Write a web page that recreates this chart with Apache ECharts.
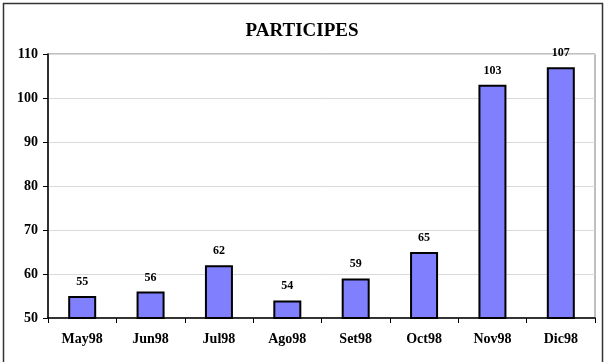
<!DOCTYPE html>
<html>
<head>
<meta charset="utf-8">
<script src="https://cdn.jsdelivr.net/npm/echarts@6/dist/echarts.min.js"></script>
<style>
html,body{margin:0;padding:0;background:#fff;}
#c{width:604px;height:362px;}
</style>
</head>
<body>
<div id="c"></div>
<script>
var categories = ['May98','Jun98','Jul98','Ago98','Set98','Oct98','Nov98','Dic98'];
var values = [55, 56, 62, 54, 59, 65, 103, 107];
var titleText = 'PARTICIPES';
var yMin = 50, yMax = 110, yStep = 10;

var FONT = '"Liberation Serif","Times New Roman",serif';
var chart = echarts.init(document.getElementById('c'), null, {renderer:'canvas'});
chart.setOption({
  animation: false,
  backgroundColor: '#fff',
  title: {
    text: titleText,
    left: 'center',
    top: 17,
    textStyle: {fontFamily: FONT, fontWeight: 'bold', fontSize: 19, color: '#000'}
  },
  graphic: [{
    type: 'rect',
    shape: {x: 3.5, y: 3.5, width: 599, height: 380},
    style: {fill: 'none', stroke: '#333', lineWidth: 1.5},
    silent: true,
    z: 100
  }],
  grid: {
    left: 48, right: 9, top: 54, bottom: 44,
    show: true, borderColor: '#808080', borderWidth: 1,
    containLabel: false
  },
  xAxis: {
    type: 'category',
    data: categories,
    boundaryGap: true,
    axisLine: {show: true, lineStyle: {color: '#000', width: 1.5}},
    axisTick: {show: true, alignWithLabel: false, length: 5, lineStyle: {color: '#000'}},
    axisLabel: {fontFamily: FONT, fontWeight: 'bold', fontSize: 14, color: '#000', margin: 14},
    splitLine: {show: false}
  },
  yAxis: {
    type: 'value',
    min: yMin, max: yMax, interval: yStep,
    axisLine: {show: true, lineStyle: {color: '#000', width: 1.5}},
    axisTick: {show: true, length: 5, lineStyle: {color: '#000'}},
    axisLabel: {fontFamily: FONT, fontWeight: 'bold', fontSize: 14, color: '#000', margin: 10},
    splitLine: {show: true, lineStyle: {color: '#d9d9d9', width: 1}}
  },
  series: [{
    type: 'bar',
    data: values,
    barWidth: 28,
    itemStyle: {color: '#8080ff', borderColor: '#000', borderWidth: 2},
    label: {
      show: true, position: 'top', distance: 8,
      fontFamily: FONT, fontWeight: 'bold', fontSize: 12, color: '#000'
    }
  }]
});
</script>
</body>
</html>
